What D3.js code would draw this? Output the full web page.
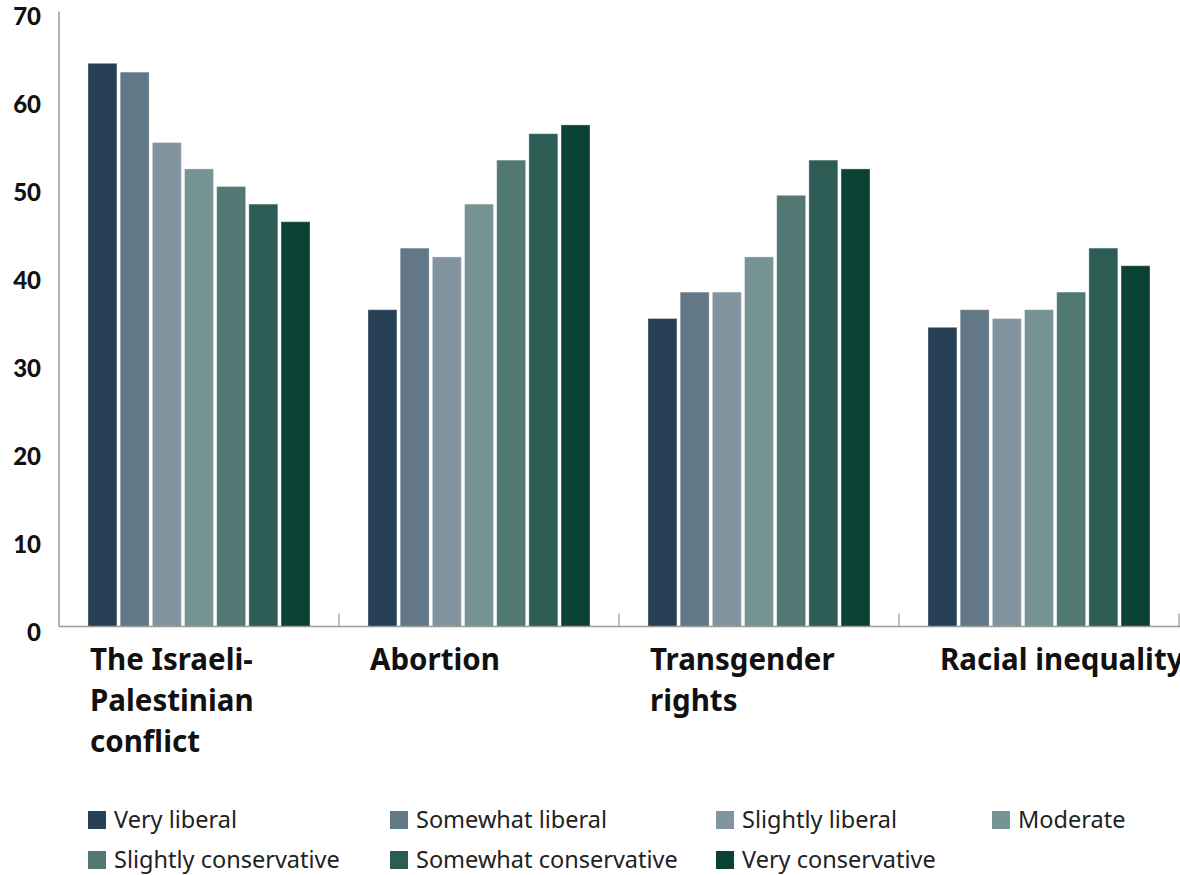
<!DOCTYPE html>
<html>
<head>
<meta charset="utf-8">
<script src="https://cdn.jsdelivr.net/npm/d3@7"></script>
<style>
  html, body { margin: 0; padding: 0; background: #fff; }
  svg { display: block; }
  .ytick { font-family: Lato, sans-serif; font-weight: 900; font-size: 24px; fill: #111; }
  .cat { font-family: "Noto Sans", sans-serif; font-weight: 700; font-size: 29.5px; fill: #111; }
  .leg { font-family: "Noto Sans", sans-serif; font-weight: 400; font-size: 23.5px; fill: #222; }
</style>
</head>
<body>
<svg id="chart" width="1180" height="875"></svg>
<script>
// Topics (x groups) and their label lines
const categories = ["The Israeli-Palestinian conflict", "Abortion", "Transgender rights", "Racial inequality"];
const categoryLines = [["The Israeli-", "Palestinian", "conflict"], ["Abortion"], ["Transgender", "rights"], ["Racial inequality"]];

// Ideology series
const series = ["Very liberal", "Somewhat liberal", "Slightly liberal", "Moderate",
                "Slightly conservative", "Somewhat conservative", "Very conservative"];
const colors = ["#274055", "#637886", "#8394a1", "#759392", "#517873", "#2d5c55", "#0a4236"];

// Values per series, one entry per topic
const veryLiberal           = [64, 36, 35, 34];
const somewhatLiberal       = [63, 43, 38, 36];
const slightlyLiberal       = [55, 42, 38, 35];
const moderate              = [52, 48, 42, 36];
const slightlyConservative  = [50, 53, 49, 38];
const somewhatConservative  = [48, 56, 53, 43];
const veryConservative      = [46, 57, 52, 41];
const seriesValues = [veryLiberal, somewhatLiberal, slightlyLiberal, moderate,
                      slightlyConservative, somewhatConservative, veryConservative];

const yTicks = [0, 10, 20, 30, 40, 50, 60, 70];

const svg = d3.select("#chart");
const x0 = d3.scaleBand().domain(categories).range([59, 1179]).padding(0);
const x1 = d3.scaleBand().domain(series).range([29, 251]).paddingInner(0.1);
const y = d3.scaleLinear().domain([0, 70]).range([626.5, 10.5]);
const color = d3.scaleOrdinal().domain(series).range(colors);

// Bars
const groups = svg.append("g").selectAll("g")
  .data(categories)
  .join("g")
  .attr("transform", d => `translate(${x0(d)},0)`);

groups.selectAll("rect")
  .data((d, i) => series.map((s, k) => ({ s, v: seriesValues[k][i] })))
  .join("rect")
  .attr("x", d => x1(d.s))
  .attr("width", x1.bandwidth())
  .attr("y", d => y(d.v))
  .attr("height", d => y(0) - y(d.v))
  .attr("fill", d => color(d.s))
  .attr("stroke", "rgba(255,255,255,0.35)")
  .attr("stroke-width", 1);

// Y axis line and labels
svg.append("line")
  .attr("x1", 59).attr("x2", 59)
  .attr("y1", y(70) + 1).attr("y2", y(0))
  .attr("stroke", "#9a9a9a").attr("stroke-width", 1.5);

svg.append("g").selectAll("text")
  .data(yTicks)
  .join("text")
  .attr("class", "ytick")
  .attr("x", 41)
  .attr("y", d => y(d) + 14)
  .attr("text-anchor", "end")
  .text(d => d);

// Baseline with group separators
svg.append("line")
  .attr("x1", 59).attr("x2", 1180)
  .attr("y1", y(0)).attr("y2", y(0))
  .attr("stroke", "#9a9a9a").attr("stroke-width", 1.5);

const sepX = categories.map(c => x0(c)).concat([x0.range()[1]]);
svg.append("g").selectAll("line")
  .data(sepX.slice(1))
  .join("line")
  .attr("x1", d => d).attr("x2", d => d)
  .attr("y1", y(0)).attr("y2", y(0) - 13)
  .attr("stroke", "#9a9a9a").attr("stroke-width", 1.2);

// Category labels
const labelOffset = [31, 31, 31, 41];
const catG = svg.append("g").selectAll("text")
  .data(categories)
  .join("text")
  .attr("class", "cat")
  .attr("x", (d, i) => x0(d) + labelOffset[i])
  .attr("y", 670);
catG.selectAll("tspan")
  .data((d, i) => categoryLines[i])
  .join("tspan")
  .attr("x", function() { return d3.select(this.parentNode).attr("x"); })
  .attr("dy", (d, j) => j === 0 ? 0 : 41)
  .text(d => d);

// Legend
const legendPos = [[88, 820], [390, 820], [716, 820], [992, 820],
                   [88, 860], [390, 860], [716, 860]];
const leg = svg.append("g").selectAll("g")
  .data(series)
  .join("g")
  .attr("transform", (d, i) => `translate(${legendPos[i][0]},${legendPos[i][1]})`);
leg.append("rect")
  .attr("x", 0).attr("y", -9)
  .attr("width", 18).attr("height", 18)
  .attr("fill", d => color(d));
leg.append("text")
  .attr("class", "leg")
  .attr("x", 26).attr("y", 8)
  .text(d => d);
</script>
</body>
</html>
